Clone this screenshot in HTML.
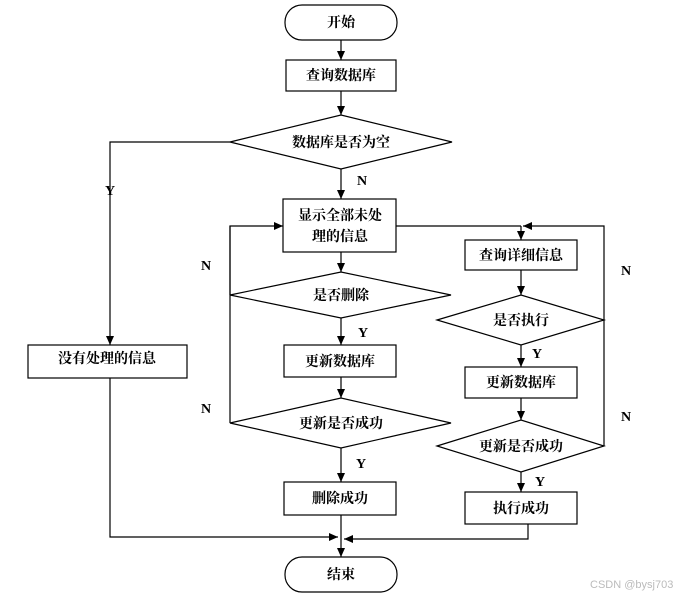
<!DOCTYPE html>
<html><head><meta charset="utf-8"><style>
body{margin:0;background:#fff;}
svg text{font-family:"Liberation Serif","Noto Serif CJK SC",serif;font-weight:bold;font-size:14px;fill:#000;}
</style></head><body>
<svg width="688" height="597" viewBox="0 0 688 597" xmlns="http://www.w3.org/2000/svg">
<defs><marker id="a" markerWidth="10" markerHeight="10" refX="9" refY="5" orient="auto" markerUnits="userSpaceOnUse"><path d="M0,1 L9,5 L0,9 z" fill="#000"/></marker></defs>
<g fill="none" stroke="#000" stroke-width="1.2">
<rect x="285" y="5" width="112" height="35" rx="17"/>
<rect x="286" y="60" width="110" height="31"/>
<polygon points="230,142 341,115 452,142 341,169"/>
<rect x="28" y="345" width="159" height="33"/>
<rect x="283" y="199" width="113" height="53"/>
<rect x="465" y="240" width="112" height="30"/>
<polygon points="230,295 341,272 451,295 341,318"/>
<rect x="284" y="345" width="112" height="32"/>
<polygon points="230,423 341,398 451,423 341,448"/>
<rect x="284" y="482" width="112" height="33"/>
<polygon points="437,320 521,295 604,320 521,345"/>
<rect x="465" y="367" width="112" height="31"/>
<polygon points="437,446 521,420 604,446 521,472"/>
<rect x="465" y="492" width="112" height="32"/>
<rect x="285" y="557" width="112" height="35" rx="17"/>
<path d="M341,40 V60" marker-end="url(#a)"/>
<path d="M341,91 V115" marker-end="url(#a)"/>
<path d="M341,169 V199" marker-end="url(#a)"/>
<path d="M230,142 H110 V345" marker-end="url(#a)"/>
<path d="M341,252 V272" marker-end="url(#a)"/>
<path d="M341,318 V345" marker-end="url(#a)"/>
<path d="M341,377 V398" marker-end="url(#a)"/>
<path d="M341,448 V482" marker-end="url(#a)"/>
<path d="M341,515 V557" marker-end="url(#a)"/>
<path d="M230,423 V226 H283" marker-end="url(#a)"/>
<path d="M230,295 V226"/>
<path d="M396,226 H521"/>
<path d="M604,320 V226 H523" marker-end="url(#a)"/>
<path d="M604,446 V320"/>
<path d="M521,226 V240" marker-end="url(#a)"/>
<path d="M521,270 V295" marker-end="url(#a)"/>
<path d="M521,345 V367" marker-end="url(#a)"/>
<path d="M521,398 V420" marker-end="url(#a)"/>
<path d="M521,472 V492" marker-end="url(#a)"/>
<path d="M110,378 V537 H338" marker-end="url(#a)"/>
<path d="M528,524 V539 H344" marker-end="url(#a)"/>
</g>
<g text-anchor="middle">
<text x="341" y="27">开始</text>
<text x="341" y="80">查询数据库</text>
<text x="341" y="147">数据库是否为空</text>
<text x="107" y="377" dy="-14">没有处理的信息</text>
<text x="340" y="220">显示全部未处</text>
<text x="340" y="241">理的信息</text>
<text x="521" y="260">查询详细信息</text>
<text x="341" y="300">是否删除</text>
<text x="340" y="366">更新数据库</text>
<text x="341" y="428">更新是否成功</text>
<text x="340" y="503">删除成功</text>
<text x="521" y="325">是否执行</text>
<text x="521" y="387">更新数据库</text>
<text x="521" y="451">更新是否成功</text>
<text x="521" y="513">执行成功</text>
<text x="341" y="579">结束</text>
<text x="110" y="195">Y</text>
<text x="362" y="185">N</text>
<text x="363" y="337">Y</text>
<text x="361" y="468">Y</text>
<text x="537" y="358">Y</text>
<text x="540" y="486">Y</text>
<text x="206" y="270">N</text>
<text x="206" y="413">N</text>
<text x="626" y="275">N</text>
<text x="626" y="421">N</text>
</g>
<text x="590" y="588" style="font-family:'Liberation Sans',sans-serif;font-weight:normal;font-size:11px;fill:#bbb">CSDN @bysj703</text>
</svg>
</body></html>
